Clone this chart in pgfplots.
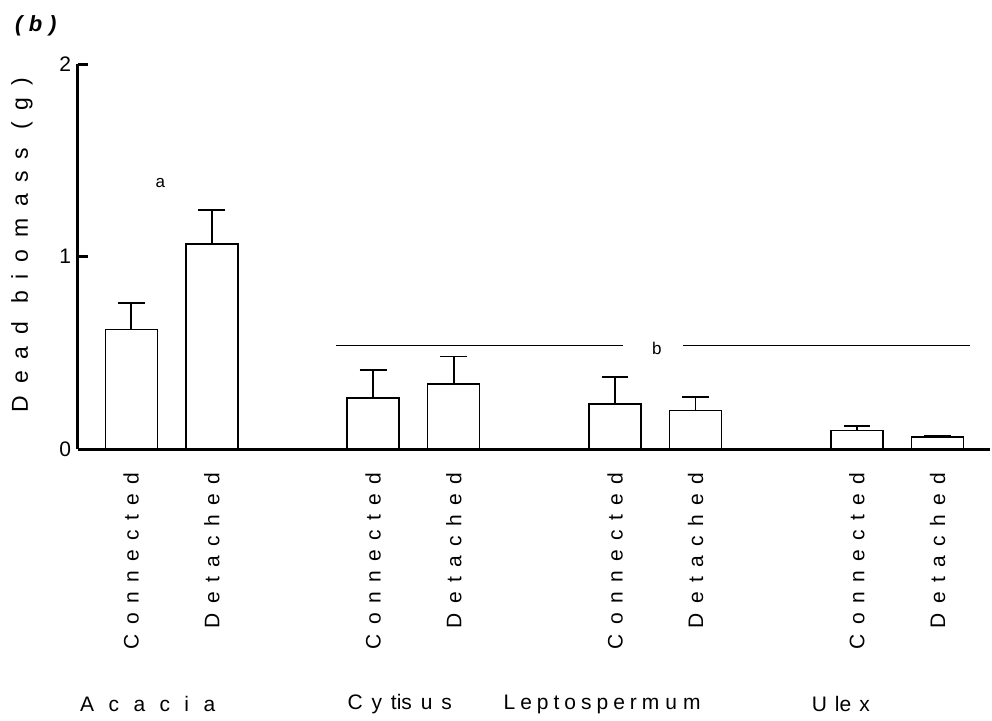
\documentclass[border=0pt]{standalone}
\usepackage{pgfplots}
\pgfplotsset{compat=1.18}
\usepackage{fontspec}
\setmainfont{Liberation Sans}
\newfontfamily\ls[LetterSpace=45]{Liberation Sans}
\newfontfamily\lsy[LetterSpace=51]{Liberation Sans}
\newfontfamily\lsb[LetterSpace=30]{Liberation Sans}
\newcommand\g[1]{\hspace{#1}}
\begin{document}
\begin{tikzpicture}
\useasboundingbox (-39pt,-135.5pt) rectangle (457pt,224.5pt);
\begin{axis}[
  scale only axis,
  width=456pt, height=192.5pt,
  xmin=-0.66, xmax=10.65,
  ymin=0, ymax=2,
  axis lines=left,
  axis line style={line width=1.5pt,-},
  ytick={0,1,2},
  tick align=inside,
  major tick length=5pt,
  tick style={line width=1.5pt,black},
  xtick style={draw=none},
  xtick={0,1,3,4,6,7,9,10},
  xticklabels={Connected,Detached,Connected,Detached,Connected,Detached,Connected,Detached},
  xticklabel style={rotate=90,anchor=east,inner sep=0pt,font=\ls\fontsize{10.5}{12}\selectfont},
  xticklabel shift=11.5pt,
  yticklabel style={font=\fontsize{10.5}{12}\selectfont},
  /pgf/number format/assume math mode=true,
  clip=false,
]
\addplot[ybar, bar width=26pt, draw=black, fill=white, line width=0.7pt,
  error bars/.cd, y dir=plus, y explicit,
  error bar style={line width=0.8pt},
  error mark options={line width=0.8pt, mark size=6.7pt, rotate=90}]
  coordinates {
  (0,0.620) +- (0,0.138)
  (1,1.065) +- (0,0.177)
  (3,0.265) +- (0,0.145)
  (4,0.338) +- (0,0.142)
  (6,0.234) +- (0,0.141)
  (7,0.200) +- (0,0.070)
  (9,0.097) +- (0,0.023)
  (10,0.062) +- (0,0.009)
  };
\addplot[black, line width=0.6pt] coordinates {(2.54,0.538) (6.10,0.538)};
\addplot[black, line width=0.6pt] coordinates {(6.84,0.538) (10.40,0.538)};
\node[font=\fontsize{8.5}{10}\selectfont] at (axis cs:0.36,1.38) {a};
\node[font=\fontsize{8.5}{10}\selectfont] at (axis cs:6.52,0.52) {b};
\node[font=\fontsize{10.5}{12}\selectfont] at (axis cs:0.205,0) [yshift=-127.5pt] {A\g{7.2pt}c\g{7.2pt}a\g{7.2pt}c\g{7.2pt}i\g{7.2pt}a};
\node[font=\fontsize{10.5}{12}\selectfont] at (axis cs:3.33,0) [yshift=-127.5pt] {C\g{4.4pt}y\g{4.4pt}tis\g{4.4pt}u\g{4.4pt}s};
\node[font=\fontsize{10.5}{12}\selectfont] at (axis cs:5.84,0) [yshift=-127.5pt] {L\g{2.5pt}e\g{2.5pt}p\g{2.5pt}t\g{2.5pt}o\g{2.5pt}s\g{2.5pt}p\g{2.5pt}e\g{2.5pt}r\g{2.5pt}m\g{3pt}u\g{3pt}m};
\node[font=\fontsize{10.5}{12}\selectfont] at (axis cs:8.80,0) [yshift=-127.5pt] {U\g{4pt}le\g{4pt}x};
\end{axis}
\node[rotate=90, font=\lsy\fontsize{11.5}{13}\selectfont] at (-28pt,102pt) {Dead biomass (g)};
\node[anchor=west, font=\lsb\bfseries\itshape\fontsize{11}{13}\selectfont] at (-35pt,211.5pt) {(b)};
\end{tikzpicture}
\end{document}
